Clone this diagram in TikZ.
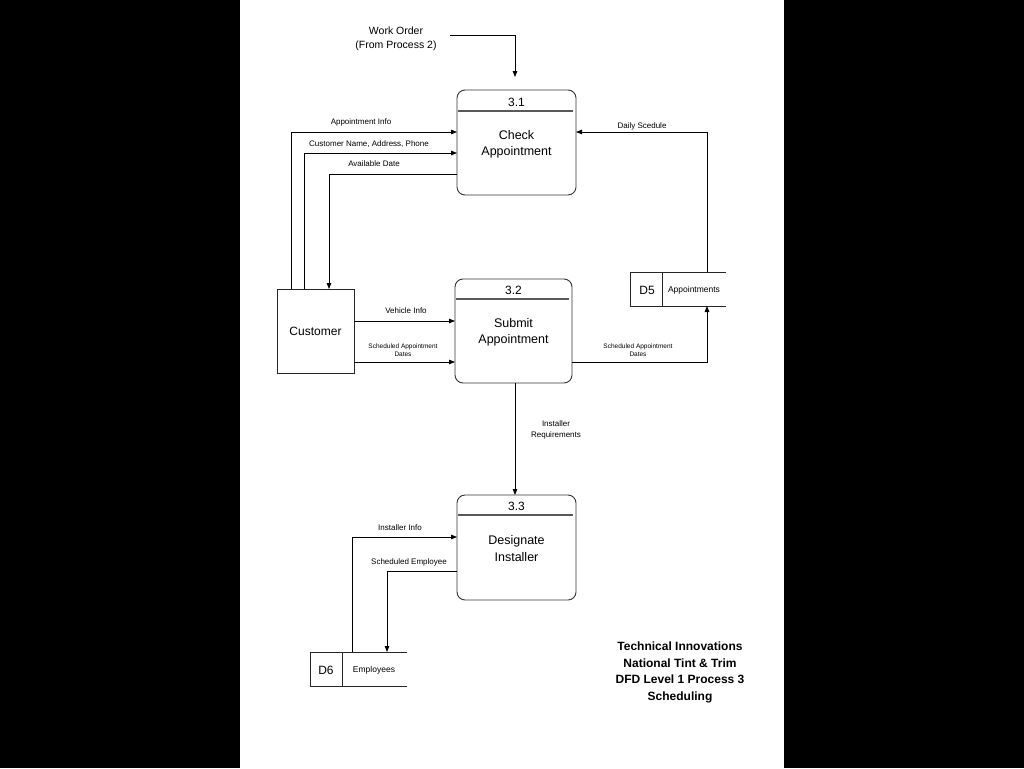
\documentclass[tikz,border=0pt]{standalone}
\usepackage{fontspec}
\setmainfont{Liberation Sans}
\usetikzlibrary{arrows.meta,calc}
\begin{document}
\begin{tikzpicture}[x=1pt,y=-1pt,
 proc/.style={draw=black!80,line width=0.9pt,rounded corners=8pt,inner sep=0pt,outer sep=0pt},
 ent/.style={draw=black!85,line width=0.9pt,minimum width=77pt,minimum height=84pt,inner sep=0pt,outer sep=0pt,font=\fontsize{12}{14}\selectfont},
 store/.style={minimum width=96pt,minimum height=34pt,inner sep=0pt,outer sep=0pt},
 sline/.style={draw=black!85,line width=0.9pt},
 hdr/.style={draw=black!65,line width=1.3pt},
 lbl/.style={font=\fontsize{8}{11}\selectfont,inner sep=0pt,align=center,yshift=-1.2pt},
 tinylbl/.style={font=\fontsize{6.5}{8}\selectfont,inner sep=0pt,align=center,yshift=-1pt},
 ptxt/.style={font=\fontsize{12.5}{16.5}\selectfont,align=center,inner sep=0pt,yshift=-2pt},
 pnum/.style={font=\fontsize{12}{14}\selectfont,inner sep=0pt,yshift=-1.5pt},
 flow/.style={line width=0.8pt,-{Triangle[length=6pt,width=4.5pt]}},
]
% background
\fill[black] (0,0) rectangle (1024,768);
\fill[white] (240,0) rectangle (784,768);

% processes
\node[proc,minimum width=119pt,minimum height=105pt] (p31) at (516.5,142.5) {};
\draw[hdr] ($(p31.north west)+(1,21)$) -- ($(p31.north east)+(-3,21)$);
\node[pnum] (n31) at (516.5,100.5) {3.1};
\node[ptxt] (t31) at (516.5,142.5) {Check\\Appointment};

\node[proc,minimum width=117pt,minimum height=104pt] (p32) at (513.5,331) {};
\draw[hdr] ($(p32.north west)+(1,20)$) -- ($(p32.north east)+(-3,20)$);
\node[pnum] (n32) at (513.5,289) {3.2};
\node[ptxt] (t32) at (513.5,330.5) {Submit\\Appointment};

\node[proc,minimum width=119pt,minimum height=105pt] (p33) at (516.5,547.5) {};
\draw[hdr] ($(p33.north west)+(1,20)$) -- ($(p33.north east)+(-3,20)$);
\node[pnum] (n33) at (516.5,505) {3.3};
\node[ptxt] (t33) at (516.5,546.5) {Designate\\Installer};

% external entity
\node[ent] (cust) at (315.5,331) {Customer};

% data stores
\node[store] (d5) at (678,289) {};
\draw[sline] (d5.north east) -- (d5.north west) -- (d5.south west) -- (d5.south east);
\draw[sline] ($(d5.north west)+(32,0)$) -- ($(d5.south west)+(32,0)$);
\node[pnum] (d5id) at (647,289) {D5};
\node[font=\fontsize{8.5}{10}\selectfont,inner sep=0pt,yshift=-1pt] (d5n) at (694,289.5) {Appointments};

\node[store,minimum width=97pt] (d6) at (358.5,669) {};
\draw[sline] (d6.north east) -- (d6.north west) -- (d6.south west) -- (d6.south east);
\draw[sline] ($(d6.north west)+(32,0)$) -- ($(d6.south west)+(32,0)$);
\node[pnum] (d6id) at (326,669) {D6};
\node[font=\fontsize{8.5}{10}\selectfont,inner sep=0pt,yshift=-1pt] (d6n) at (374,669.5) {Employees};

% work order
\node[font=\fontsize{10.5}{14}\selectfont,align=center,inner sep=0pt,yshift=-2pt] (wo) at (396,37) {Work Order\\(From Process 2)};
\coordinate (wostart) at (450,35);
\coordinate (woend) at (515,77);
\draw[flow] (wostart) -| (woend);

% customer <-> 3.1
\draw[flow] ($(cust.north west)+(14,0)$) |- (p31.west |- 0,132);
\draw[flow] ($(cust.north west)+(27,0)$) |- (p31.west |- 0,153);
\draw[flow] (p31.west |- 0,174) -| ($(cust.north west)+(52,0)$);
\node[lbl] (l1) at (361,121) {Appointment Info};
\node[lbl] (l2) at (369,143) {Customer Name, Address, Phone};
\node[lbl] (l3) at (374,162) {Available Date};

% customer -> 3.2
\draw[flow] (cust.east |- 0,321) -- (p32.west |- 0,321);
\draw[flow] (cust.east |- 0,362) -- (p32.west |- 0,362);
\node[lbl] (l4) at (406,309) {Vehicle Info};
\node[tinylbl] (l5) at (403,349) {Scheduled Appointment\\Dates};

% D5
\draw[flow] ($(d5.north east)+(-19,0)$) |- (p31.east |- 0,132);
\node[lbl] (l6) at (642,125) {Daily Scedule};
\draw[flow] (p32.east |- 0,362) -| ($(d5.south east)+(-19,0)$);
\node[tinylbl] (l7) at (638,349) {Scheduled Appointment\\Dates};

% 3.2 -> 3.3
\draw[flow] (p32.south -| 515,0) -- (p33.north -| 515,0);
\node[lbl] (l8) at (556,428.5) {Installer\\Requirements};

% D6 <-> 3.3
\draw[flow] ($(d6.north west)+(42,0)$) |- (p33.west |- 0,537);
\draw[flow] (p33.west |- 0,571) -| ($(d6.north west)+(77,0)$);
\node[lbl] (l9) at (400,526) {Installer Info};
\node[lbl] (l10) at (409,561) {Scheduled Employee};

% title
\node[font=\bfseries\fontsize{12}{16.5}\selectfont,align=center,inner sep=0pt,yshift=-2pt] (title) at (680,670.5) {Technical Innovations\\National Tint \& Trim\\DFD Level 1 Process 3\\Scheduling};
\end{tikzpicture}
\end{document}
